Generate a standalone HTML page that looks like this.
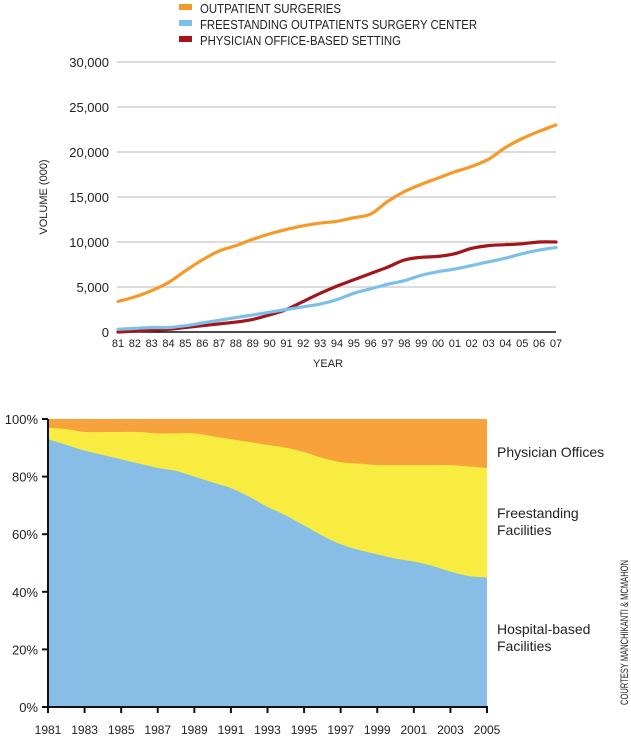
<!DOCTYPE html>
<html><head><meta charset="utf-8"><style>
body{margin:0;background:#fff;width:631px;height:739px;overflow:hidden;font-family:"Liberation Sans",sans-serif}
svg{position:absolute;left:0;top:0}
</style></head><body>
<svg id="c" width="631" height="739"></svg>
<script>
const years1=["81","82","83","84","85","86","87","88","89","90","91","92","93","94","95","96","97","98","99","00","01","02","03","04","05","06","07"];
const outpatient=[3400,3900,4600,5500,6800,8000,9000,9600,10300,10900,11400,11800,12100,12300,12700,13100,14500,15600,16400,17100,17800,18400,19200,20500,21500,22300,23000];
const freestanding=[300,400,500,500,700,1000,1300,1600,1900,2200,2500,2800,3100,3600,4300,4800,5300,5700,6300,6700,7000,7400,7800,8200,8700,9100,9400];
const physician=[0,100,200,300,500,700,900,1100,1400,1900,2500,3400,4300,5100,5800,6500,7200,8000,8300,8400,8700,9300,9600,9700,9800,10000,10000];
const yTicks1=[0,5000,10000,15000,20000,25000,30000];
const yTickLabels1=["0","5,000","10,000","15,000","20,000","25,000","30,000"];
const years2=[1981,1982,1983,1984,1985,1986,1987,1988,1989,1990,1991,1992,1993,1994,1995,1996,1997,1998,1999,2000,2001,2002,2003,2004,2005];
const hospitalPct=[93,91,89,87.5,86,84.5,83,82,80,78,76,73,69.5,66.5,63,59.5,56.5,54.5,53,51.5,50.5,49,47,45.5,45];
const freestandingPct=[4,5.5,6.5,8,9.5,11,12,13,15,16,17,19,21.5,23.5,25.5,27,28.5,30,31,32.5,33.5,35,37,38,38];
const yTicks2=[0,20,40,60,80,100];
const NS="http://www.w3.org/2000/svg";
const svg=document.getElementById('c');
function mk(t,a,txt){const e=document.createElementNS(NS,t);for(const k in a)e.setAttribute(k,a[k]);if(txt!==undefined)e.textContent=txt;svg.appendChild(e);return e;}
function spline(pts){let d="M"+pts[0][0]+","+pts[0][1];for(let i=0;i<pts.length-1;i++){const p0=pts[i-1]||pts[i],p1=pts[i],p2=pts[i+1],p3=pts[i+2]||p2;const c1=[p1[0]+(p2[0]-p0[0])/6,p1[1]+(p2[1]-p0[1])/6],c2=[p2[0]-(p3[0]-p1[0])/6,p2[1]-(p3[1]-p1[1])/6];d+=` C${c1[0]},${c1[1]} ${c2[0]},${c2[1]} ${p2[0]},${p2[1]}`;}return d;}
const X1=i=>118+i*(556-118)/(years1.length-1);
const Y1=v=>332-v*(332-62)/30000;
const leg=[["OUTPATIENT SURGERIES","#f59a2a",141],["FREESTANDING OUTPATIENTS SURGERY CENTER","#7cc0ea",277],["PHYSICIAN OFFICE-BASED SETTING","#a3141b",201]];
leg.forEach((l,i)=>{let r=mk('rect',{x:179,y:4+i*16,width:13,height:6,fill:l[1]});
let t=mk('text',{x:200,y:13+i*16,'font-size':13,fill:'#222',textLength:l[2],lengthAdjust:'spacingAndGlyphs'},l[0]);});
yTicks1.forEach((v,i)=>{if(v>0){let g=mk('line',{x1:117,x2:556,y1:Y1(v),y2:Y1(v),stroke:'#c8c8c8','stroke-width':1.3});}
let t=mk('text',{x:109,y:Y1(v)+5,'text-anchor':'end','font-size':13,fill:'#222'},yTickLabels1[i]);});
let ax=mk('line',{x1:117,x2:556,y1:332,y2:332,stroke:'#111','stroke-width':1.5});
years1.forEach((y,i)=>{let t=mk('text',{x:X1(i),y:347,'text-anchor':'middle','font-size':11,fill:'#222'},y);});
let xt=mk('text',{x:328,y:367,'text-anchor':'middle','font-size':11,fill:'#222'},'YEAR');
let yt=mk('text',{x:0,y:0,transform:'translate(47,197) rotate(-90)','text-anchor':'middle','font-size':11,fill:'#222'},'VOLUME (000)');
[[physician,'#a3141b','line-physician'],[freestanding,'#7cc0ea','line-freestanding'],[outpatient,'#f59a2a','line-outpatient']].forEach(s=>{
let p=mk('path',{d:spline(s[0].map((v,i)=>[X1(i),Y1(v)])),fill:'none',stroke:s[1],'stroke-width':3.2,'stroke-linecap':'round'});});
const X2=i=>48+i*(487-48)/(years2.length-1);
const Y2=v=>707-v*(707-419)/100;
let bg=mk('rect',{x:48,y:Y2(100),width:487-48,height:Y2(0)-Y2(100),fill:'#f7a23b'});
const topY=hospitalPct.map((h,i)=>[X2(i),Y2(h+freestandingPct[i])]);
const hY=hospitalPct.map((h,i)=>[X2(i),Y2(h)]);
let ya=mk('path',{d:spline(topY)+` L${X2(years2.length-1)},${Y2(0)} L${X2(0)},${Y2(0)} Z`,fill:'#f7ec3f'});
let ba=mk('path',{d:spline(hY)+` L${X2(years2.length-1)},${Y2(0)} L${X2(0)},${Y2(0)} Z`,fill:'#88bde6'});
let la=mk('line',{x1:48,x2:48,y1:419,y2:708,stroke:'#111','stroke-width':2});
let ba2=mk('line',{x1:47,x2:488,y1:707,y2:707,stroke:'#111','stroke-width':2});
yTicks2.forEach(v=>{let tk=mk('line',{x1:42,x2:48,y1:Y2(v),y2:Y2(v),stroke:'#111','stroke-width':2});
let t=mk('text',{x:38,y:Y2(v)+5,'text-anchor':'end','font-size':13,fill:'#222'},v+'%');});
years2.forEach((y,i)=>{if(i%2)return;let tk=mk('line',{x1:X2(i),x2:X2(i),y1:707,y2:713,stroke:'#111','stroke-width':2});
let t=mk('text',{x:X2(i),y:734,'text-anchor':'middle','font-size':12,fill:'#222'},y);});
[["Physician Offices",457],["Freestanding",518],["Facilities",535],["Hospital-based",634],["Facilities",651]].forEach(l=>{let t=mk('text',{x:497,y:l[1],'font-size':14,fill:'#222'},l[0]);});
let cr=mk('text',{x:0,y:0,transform:'translate(628,705) rotate(-90)','font-size':11,fill:'#222',textLength:145,lengthAdjust:'spacingAndGlyphs'},'COURTESY MANCHIKANTI & MCMAHON');
</script></body></html>
